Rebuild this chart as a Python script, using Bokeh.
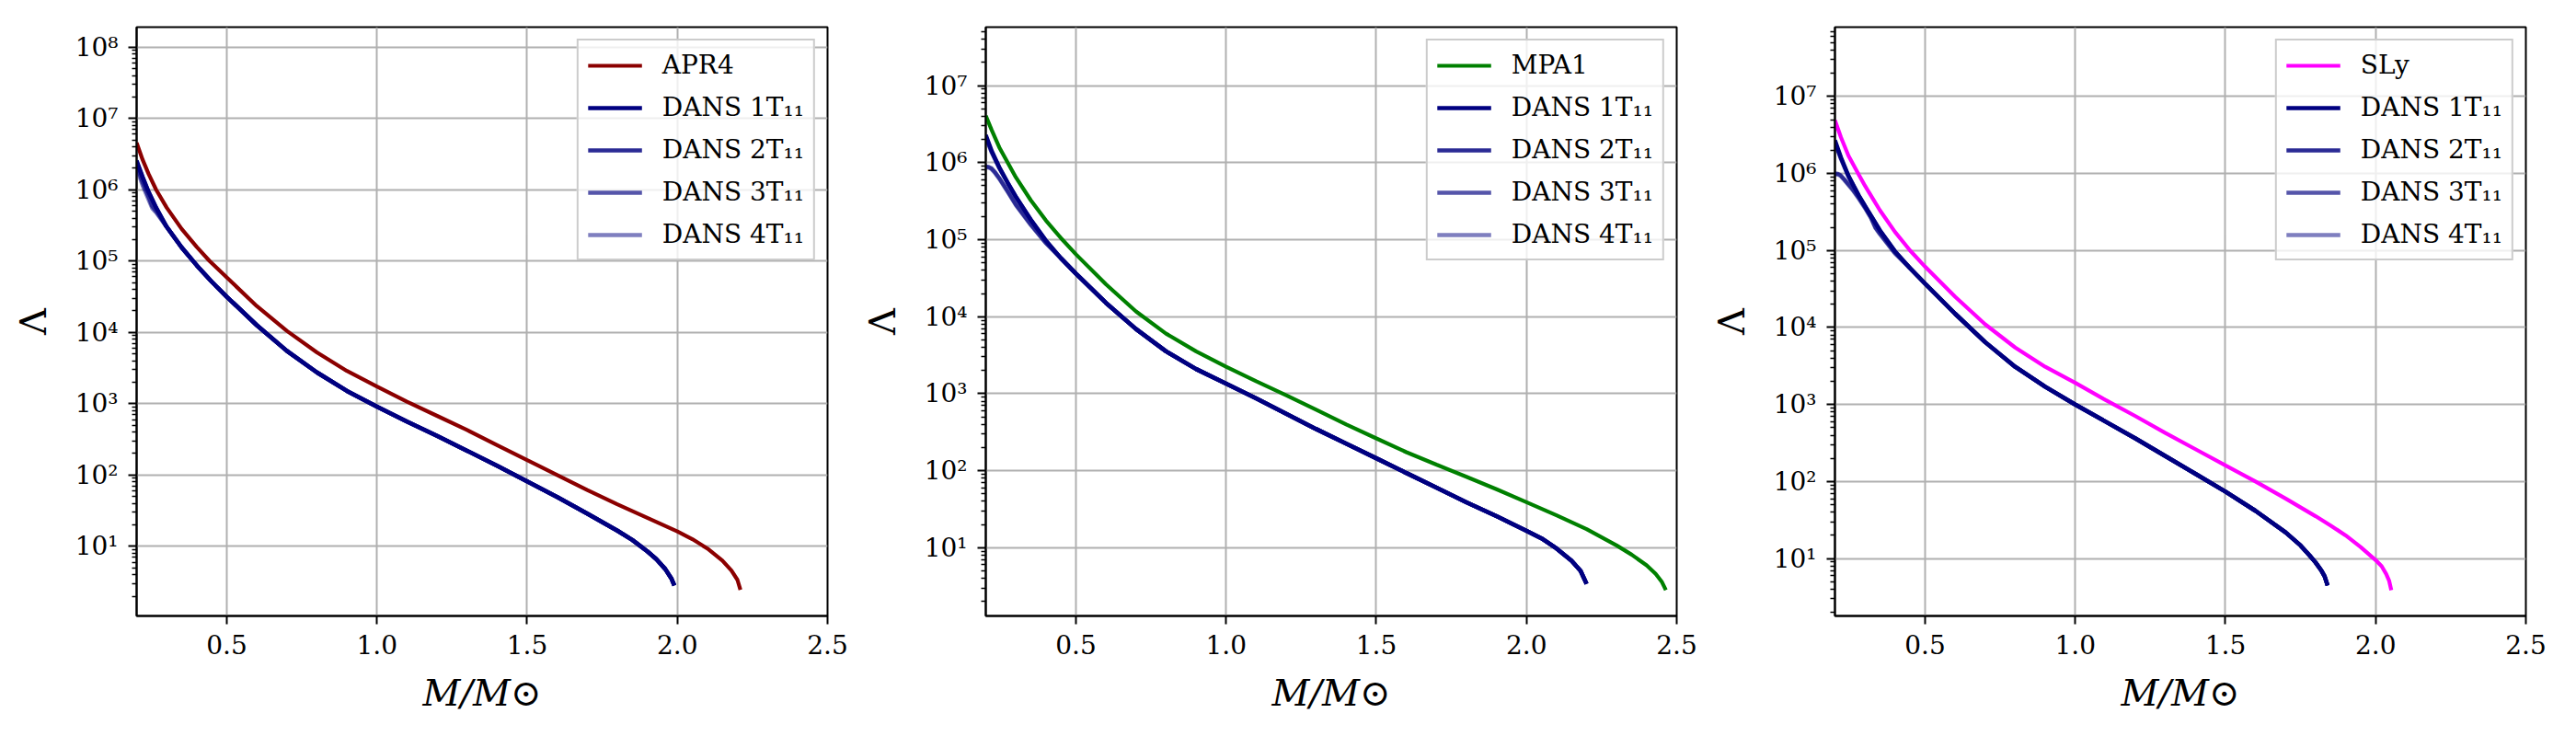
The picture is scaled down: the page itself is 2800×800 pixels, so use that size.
from bokeh.plotting import figure
from bokeh.models import Range1d, FixedTicker, CustomJSTickFormatter, PrintfTickFormatter
from bokeh.layouts import row
from bokeh.embed import file_html
from bokeh.resources import INLINE

# ---------------- data ----------------
dans_labels = ["DANS 1T\u2081\u2081", "DANS 2T\u2081\u2081", "DANS 3T\u2081\u2081", "DANS 4T\u2081\u2081"]
dans_alpha = [1.0, 0.833, 0.667, 0.5]
x_ticks = [0.5, 1.0, 1.5, 2.0, 2.5]
y_ticks = [1e1, 1e2, 1e3, 1e4, 1e5, 1e6, 1e7, 1e8]

# Panel 1: APR4
apr4_m = [0.20, 0.22, 0.24, 0.265, 0.30, 0.35, 0.40, 0.443, 0.50, 0.60, 0.70, 0.80, 0.90, 1.00,
          1.10, 1.20, 1.30, 1.40, 1.50, 1.60, 1.70, 1.80, 1.90, 2.00, 2.05, 2.10, 2.15, 2.18,
          2.20, 2.21]
apr4_l = [4.57e6, 2.63e6, 1.66e6, 1.0e6, 5.62e5, 2.82e5, 1.58e5, 1.0e5, 5.89e4, 2.34e4, 1.05e4,
          5.25e3, 2.88e3, 1.74e3, 1.07e3, 676, 427, 263, 162, 100, 61.7, 38.9, 25.1, 16.2, 12.6,
          9.33, 6.31, 4.57, 3.39, 2.45]
p1_tail_m = [0.30, 0.35, 0.40, 0.45, 0.50, 0.60, 0.70, 0.80, 0.90, 1.00, 1.10, 1.20, 1.30, 1.40,
             1.50, 1.60, 1.70, 1.80, 1.85, 1.90, 1.93, 1.96, 1.98, 1.99]
p1_tail_l = [3.02e5, 1.55e5, 8.71e4, 5.13e4, 3.16e4, 1.26e4, 5.50e3, 2.75e3, 1.51e3, 912, 562,
             355, 219, 135, 81.3, 49.0, 28.8, 16.6, 12.3, 8.51, 6.61, 4.79, 3.55, 2.82]
p1_head_m = [[0.20, 0.22, 0.24, 0.265], [0.20, 0.22, 0.24, 0.265],
             [0.20, 0.22, 0.24, 0.252, 0.265], [0.20, 0.22, 0.24, 0.252, 0.265]]
p1_head_l = [[2.57e6, 1.51e6, 9.33e5, 5.62e5], [2.45e6, 1.48e6, 9.2e5, 5.56e5],
             [2.19e6, 1.26e6, 7.94e5, 5.89e5, 5.01e5], [2.0e6, 1.15e6, 7.24e5, 5.50e5, 4.79e5]]

# Panel 2: MPA1
mpa1_m = [0.20, 0.22, 0.245, 0.273, 0.30, 0.35, 0.40, 0.45, 0.50, 0.60, 0.70, 0.80, 0.90, 1.00,
          1.10, 1.20, 1.30, 1.40, 1.50, 1.60, 1.70, 1.80, 1.90, 2.00, 2.10, 2.20, 2.30, 2.35,
          2.40, 2.43, 2.45, 2.464]
mpa1_l = [4.07e6, 2.63e6, 1.58e6, 1.0e6, 6.46e5, 3.24e5, 1.78e5, 1.05e5, 6.46e4, 2.63e4, 1.17e4,
          6.03e3, 3.55e3, 2.24e3, 1.45e3, 955, 617, 398, 263, 174, 120, 83.2, 57.5, 38.9, 26.3,
          17.4, 10.7, 8.13, 5.89, 4.57, 3.63, 2.82]
p2_tail_m = [0.45, 0.50, 0.60, 0.70, 0.80, 0.90, 1.00, 1.10, 1.20, 1.30, 1.40, 1.50, 1.60, 1.70,
             1.80, 1.90, 2.00, 2.05, 2.10, 2.15, 2.18, 2.20]
p2_tail_l = [5.75e4, 3.63e4, 1.51e4, 6.92e3, 3.55e3, 2.09e3, 1.35e3, 871, 550, 347, 224, 145,
             93.3, 60.3, 38.9, 25.7, 16.6, 13.2, 9.77, 6.76, 5.01, 3.39]
p2_head_m = [[0.20, 0.22, 0.245, 0.273, 0.30, 0.35, 0.40],
             [0.20, 0.22, 0.245, 0.273, 0.30, 0.35, 0.40],
             [0.20, 0.21, 0.218, 0.23, 0.245, 0.26, 0.273, 0.30, 0.35, 0.40],
             [0.20, 0.21, 0.218, 0.23, 0.245, 0.26, 0.273, 0.30, 0.35, 0.40]]
p2_head_l = [[2.29e6, 1.41e6, 8.71e5, 5.50e5, 3.63e5, 1.82e5, 9.77e4],
             [2.14e6, 1.35e6, 8.51e5, 5.43e5, 3.59e5, 1.80e5, 9.66e4],
             [8.91e5, 8.81e5, 8.51e5, 7.59e5, 6.31e5, 5.13e5, 4.27e5, 2.88e5, 1.58e5, 9.12e4],
             [8.71e5, 8.61e5, 8.32e5, 7.41e5, 6.17e5, 5.01e5, 4.17e5, 2.82e5, 1.55e5, 9.02e4]]

# Panel 3: SLy
sly_m = [0.20, 0.22, 0.245, 0.28, 0.30, 0.35, 0.40, 0.45, 0.50, 0.60, 0.70, 0.80, 0.90, 1.00,
         1.10, 1.20, 1.30, 1.40, 1.50, 1.60, 1.70, 1.80, 1.85, 1.90, 1.95, 2.00, 2.02, 2.035,
         2.045, 2.052]
sly_l = [4.90e6, 2.95e6, 1.70e6, 9.55e5, 6.92e5, 3.31e5, 1.74e5, 1.0e5, 6.17e4, 2.51e4, 1.10e4,
         5.50e3, 3.09e3, 1.91e3, 1.15e3, 708, 427, 263, 162, 100, 60.3, 35.5, 26.9, 20.0, 14.1,
         9.55, 7.94, 6.31, 5.13, 3.89]
p3_tail_m = [0.45, 0.50, 0.60, 0.70, 0.80, 0.90, 1.00, 1.10, 1.20, 1.30, 1.40, 1.50, 1.60, 1.70,
             1.75, 1.78, 1.80, 1.82, 1.83, 1.84]
p3_tail_l = [5.89e4, 3.72e4, 1.51e4, 6.46e3, 3.09e3, 1.70e3, 1.0e3, 603, 363, 214, 126, 74.1,
             41.7, 21.9, 14.8, 11.0, 8.91, 6.92, 5.89, 4.47]
p3_head_m = [[0.20, 0.22, 0.245, 0.28, 0.30, 0.35, 0.40],
             [0.20, 0.22, 0.245, 0.28, 0.30, 0.35, 0.40],
             [0.20, 0.21, 0.218, 0.23, 0.245, 0.26, 0.28, 0.30, 0.32, 0.335, 0.35, 0.40],
             [0.20, 0.21, 0.218, 0.23, 0.245, 0.26, 0.28, 0.30, 0.32, 0.335, 0.35, 0.40]]
p3_head_l = [[2.69e6, 1.62e6, 9.33e5, 5.13e5, 3.80e5, 1.82e5, 9.77e4],
             [2.51e6, 1.55e6, 9.12e5, 5.07e5, 3.76e5, 1.80e5, 9.66e4],
             [1.0e6, 9.89e5, 9.55e5, 8.51e5, 7.24e5, 6.17e5, 4.79e5, 3.63e5, 2.69e5, 2.0e5,
              1.66e5, 9.33e4],
             [9.77e5, 9.66e5, 9.33e5, 8.32e5, 7.08e5, 6.03e5, 4.68e5, 3.55e5, 2.63e5, 1.95e5,
              1.62e5, 9.12e4]]

panels = [
    ("APR4", "#8b0000", apr4_m, apr4_l, p1_head_m, p1_head_l, p1_tail_m, p1_tail_l, 1.057, 1.905e8),
    ("MPA1", "#008000", mpa1_m, mpa1_l, p2_head_m, p2_head_l, p2_tail_m, p2_tail_l, 1.30, 5.75e7),
    ("SLy", "#ff00ff", sly_m, sly_l, p3_head_m, p3_head_l, p3_tail_m, p3_tail_l, 1.80, 7.94e7),
]

SERIF = "DejaVu Serif"
SUP_JS = """
const s = {"0":"\u2070","1":"\u00b9","2":"\u00b2","3":"\u00b3","4":"\u2074","5":"\u2075","6":"\u2076","7":"\u2077","8":"\u2078","9":"\u2079","-":"\u207b"};
const e = Math.round(Math.log10(tick));
return "10" + String(e).split("").map(c => s[c]).join("");
"""


def make_panel(name, color, em, el, hms, hls, tm, tl, ylo, yhi):
    p = figure(width=923, height=780, x_range=Range1d(0.2, 2.5), y_range=Range1d(ylo, yhi),
               y_axis_type="log", output_backend="svg", toolbar_location=None,
               min_border_left=148, min_border_right=24, min_border_top=29, min_border_bottom=111)
    p.background_fill_color = "white"
    p.border_fill_color = "white"
    p.outline_line_color = "black"
    p.outline_line_width = 2
    p.outline_line_alpha = 1.0

    p.line(em, el, line_color=color, line_width=4.2, legend_label=name)
    for i in range(4):
        p.line(hms[i] + tm, hls[i] + tl, line_color="#000080", line_alpha=dans_alpha[i],
               line_width=4.5, legend_label=dans_labels[i])

    p.xaxis.ticker = FixedTicker(ticks=x_ticks)
    p.xaxis.formatter = PrintfTickFormatter(format="%.1f")
    minor = [m * t for t in [1.0] + y_ticks for m in range(2, 10)]
    p.yaxis.ticker = FixedTicker(ticks=y_ticks, minor_ticks=minor)
    p.yaxis.formatter = CustomJSTickFormatter(code=SUP_JS)

    for ax in (p.xaxis, p.yaxis):
        ax.axis_line_width = 2
        ax.axis_line_color = "black"
        ax.major_tick_out = 9
        ax.major_tick_in = 0
        ax.major_tick_line_width = 2
        ax.major_label_text_font = SERIF
        ax.major_label_text_font_size = "28px"
        ax.major_label_text_color = "black"
        ax.major_label_standoff = 11
        ax.axis_label_text_font = SERIF
        ax.axis_label_text_color = "black"
    p.xaxis.minor_tick_line_color = None
    p.yaxis.minor_tick_out = 5
    p.yaxis.minor_tick_in = 0
    p.yaxis.minor_tick_line_width = 1.5

    p.xaxis.axis_label = "M/M\u2299"
    p.xaxis.axis_label_text_font_style = "italic"
    p.xaxis.axis_label_text_font_size = "40px"
    p.xaxis.axis_label_standoff = 16
    p.yaxis.axis_label = "\u039b"
    p.yaxis.axis_label_text_font_style = "normal"
    p.yaxis.axis_label_text_font_size = "40px"
    p.yaxis.axis_label_standoff = 20

    p.grid.grid_line_color = "#b0b0b0"
    p.grid.grid_line_width = 2
    p.grid.grid_line_alpha = 1.0
    p.ygrid.minor_grid_line_color = None

    lg = p.legend[0]
    lg.location = "top_right"
    lg.margin = 13
    lg.padding = 10
    lg.spacing = 13
    lg.label_height = 30
    lg.glyph_height = 30
    lg.glyph_width = 59
    lg.label_standoff = 22
    lg.label_text_font = SERIF
    lg.label_text_font_size = "28px"
    lg.label_text_color = "black"
    lg.border_line_color = "#cccccc"
    lg.border_line_width = 2
    lg.border_line_alpha = 1.0
    lg.background_fill_color = "white"
    lg.background_fill_alpha = 0.8
    return p


figs = [make_panel(*args) for args in panels]
layout = row(*figs)
open("out.html", "w", encoding="utf-8").write(file_html(layout, INLINE))
